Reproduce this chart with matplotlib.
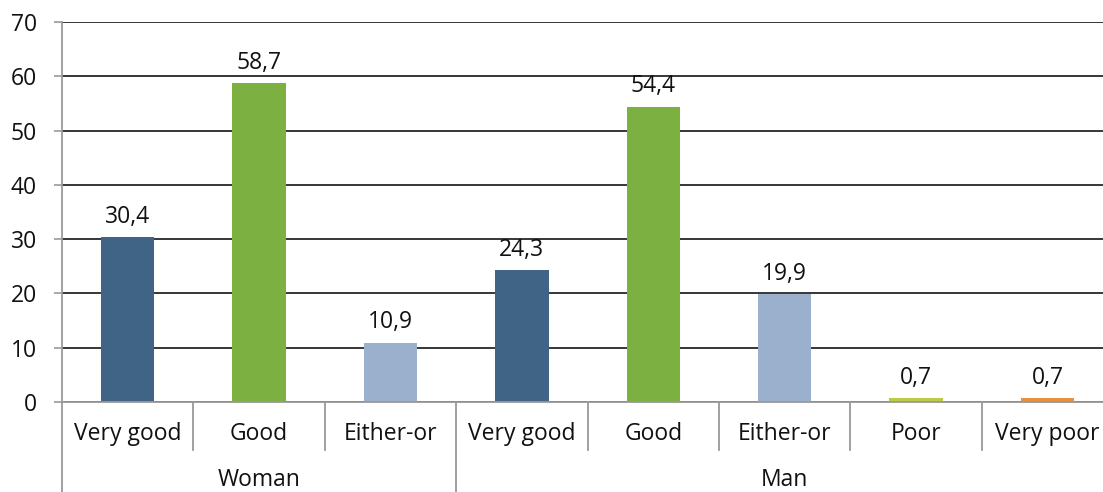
import matplotlib
matplotlib.use("Agg")
import matplotlib.pyplot as plt
from matplotlib.transforms import blended_transform_factory

plt.rcParams['font.family'] = ['Open Sans', 'DejaVu Sans']

groups = ["Woman", "Man"]
categories = ["Very good", "Good", "Either-or", "Very good", "Good", "Either-or", "Poor", "Very poor"]
group_of = [0, 0, 0, 1, 1, 1, 1, 1]
values = [30.4, 58.7, 10.9, 24.3, 54.4, 19.9, 0.7, 0.7]
colors = ["#3F6485", "#7CB142", "#9AB0CC", "#3F6485", "#7CB142", "#9AB0CC", "#BCCB42", "#E8913E"]
yticks = [0, 10, 20, 30, 40, 50, 60, 70]

W, H = 1103, 492
fig = plt.figure(figsize=(W / 100, H / 100), dpi=100)
ax = fig.add_axes([62 / W, 90 / H, (W - 62) / W, 380 / H])

FS = 16.5
x = list(range(len(categories)))
ax.bar(x, values, width=0.405, color=colors, zorder=3)
for xi, v in zip(x, values):
    ax.annotate(f"{v:.1f}".replace(".", ","), (xi, v), xytext=(0, 6), textcoords="offset points",
                ha="center", va="bottom", fontsize=FS, color="#111111")

slot = 131.4
ax.set_xlim(-0.5, -0.5 + (W - 62) / slot)
ax.set_ylim(0, 70)
ax.set_yticks(yticks)
ax.set_yticklabels([str(t) for t in yticks], fontsize=FS, color="#111111")
ax.tick_params(axis='y', length=6, width=1.2, color="#999999", pad=12)
ax.set_xticks([])
ax.grid(axis='y', color="#262626", linewidth=1.3, zorder=0)
for s in ["top", "right"]:
    ax.spines[s].set_visible(False)
ax.spines["left"].set_color("#999999")
ax.spines["left"].set_linewidth(1.3)
ax.spines["bottom"].set_color("#999999")
ax.spines["bottom"].set_linewidth(1.3)
ax.spines["bottom"].set_zorder(4)

tr = blended_transform_factory(ax.transData, ax.transAxes)
cat_bottom = -(450 - 402) / 380
grp_bottom = -(492 - 402) / 380
for i in range(len(categories) + 1):
    xb = i - 0.5
    if i == 0 or i == len(categories):
        full = True
    else:
        full = group_of[i] != group_of[i - 1]
    ax.plot([xb, xb], [0, grp_bottom if full else cat_bottom], transform=tr, color="#999999",
            linewidth=1.3, clip_on=False)

for xi, c in zip(x, categories):
    ax.text(xi, -(434 - 402) / 380, c, transform=tr, ha="center", va="center", fontsize=FS, color="#111111")

for g_idx, g in enumerate(groups):
    members = [i for i in x if group_of[i] == g_idx]
    xc = (min(members) + max(members)) / 2
    ax.text(xc, -(480 - 402) / 380, g, transform=tr, ha="center", va="center", fontsize=FS, color="#111111")

fig.savefig("out.png", dpi=100)
